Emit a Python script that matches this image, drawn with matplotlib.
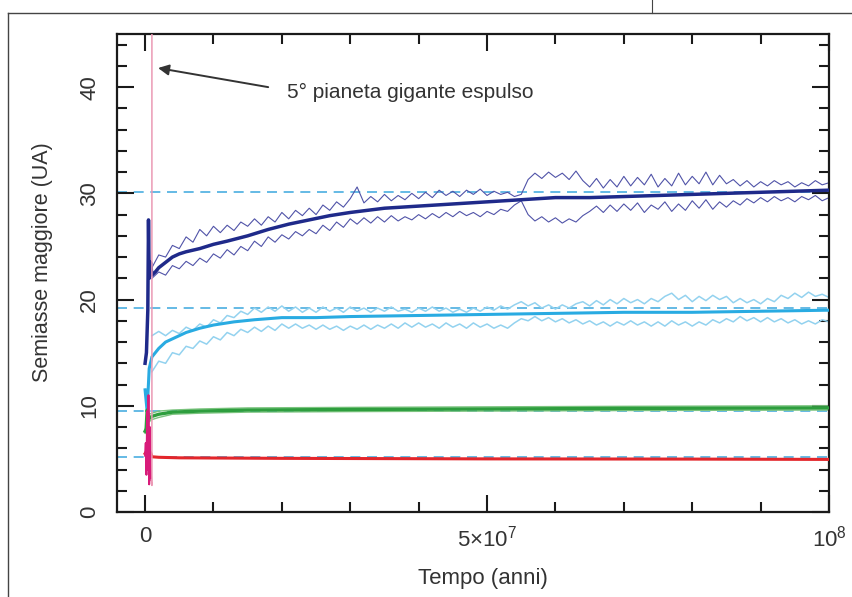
import numpy as np
import matplotlib.pyplot as plt
from matplotlib.lines import Line2D
from matplotlib.ticker import MultipleLocator

plt.rcParams['font.family'] = ['Liberation Sans', 'DejaVu Sans']
plt.rcParams['mathtext.fontset'] = 'custom'
plt.rcParams['mathtext.rm'] = 'Liberation Sans'

# --- dati (tempi in milioni di anni, semiassi in UA) ---
t_env = np.arange(1, 101)

nettuno_sup = [23.0, 24.2, 24.0, 25.1, 24.8, 25.9, 25.4, 26.6, 26.0, 26.9,
               26.3, 27.0, 26.5, 27.3, 26.9, 27.6, 27.0, 27.8, 27.3, 28.2,
               27.6, 28.4, 27.9, 28.6, 28.0, 28.9, 28.4, 29.2, 28.7, 29.5,
               30.6, 29.1, 29.7, 29.2, 29.9, 29.3, 29.8, 29.4, 30.0, 29.5,
               30.1, 29.6, 30.3, 29.8, 30.2, 29.7, 30.3, 29.9, 30.4, 29.8,
               30.2, 29.9, 30.1, 29.7, 29.9, 31.3, 31.9, 31.4, 32.0, 31.5,
               31.9, 31.3, 32.1, 31.2, 30.6, 31.4, 30.5, 31.3, 30.6, 31.6,
               30.7, 31.5, 30.8, 31.8, 30.6, 31.4, 30.7, 31.9, 30.8, 31.6,
               30.9, 32.0, 30.8, 31.7, 30.9, 31.3, 30.7, 31.2, 30.6, 31.1,
               30.7, 31.2, 30.8, 31.1, 30.6, 31.0, 30.7, 31.2, 30.8, 31.0]
nettuno_inf = [22.0, 22.6, 22.3, 23.2, 22.9, 23.6, 23.2, 23.9, 23.5, 24.3,
               23.9, 24.7, 24.2, 25.0, 24.6, 25.5, 25.0, 25.9, 25.4, 26.1,
               25.7, 26.4, 26.0, 26.6, 26.2, 27.0, 26.5, 27.3, 26.8, 27.6,
               27.1, 27.7, 27.2, 27.8, 27.3, 27.9, 27.4, 27.8, 27.5, 28.0,
               27.6, 28.1, 27.7, 28.2, 27.8, 28.3, 27.9, 28.2, 27.8, 28.3,
               28.0, 28.5, 28.3, 28.9, 29.3, 28.0, 27.4, 27.8, 27.3, 27.7,
               27.2, 27.6, 27.3, 27.9, 28.3, 28.8, 28.2, 28.9, 28.3, 29.0,
               28.4, 29.1, 28.2, 28.9, 28.5, 29.2, 28.3, 29.0, 28.4, 29.3,
               28.6, 29.4, 28.5, 29.2, 28.7, 29.3, 28.9, 29.5, 29.1, 29.6,
               29.2, 29.7, 29.3, 29.6, 29.2, 29.7, 29.4, 29.8, 29.3, 29.6]
nettuno_t = [0, 0.2, 0.4, 0.5, 0.6, 0.8, 1, 1.5, 2, 3, 4, 5, 6, 8, 10, 12,
             15, 18, 21, 24, 27, 30, 35, 40, 45, 50, 55, 60, 65, 70, 75, 80,
             85, 90, 95, 100]
nettuno_a = [14.0, 15.0, 19.0, 27.5, 22.0, 23.5, 22.3, 22.6, 23.0, 23.5,
             24.0, 24.3, 24.5, 24.8, 25.2, 25.5, 26.0, 26.6, 27.1, 27.5,
             27.9, 28.2, 28.6, 28.8, 29.0, 29.2, 29.4, 29.6, 29.6, 29.7,
             29.8, 29.9, 30.0, 30.1, 30.2, 30.3]

urano_sup = [16.6, 17.0, 16.6, 17.1, 16.8, 17.4, 17.1, 17.7, 17.4, 18.1,
             17.8, 18.5, 18.3, 18.9, 18.6, 19.2, 18.8, 19.3, 18.9, 19.4,
             18.9, 19.3, 18.8, 19.2, 18.8, 19.3, 18.9, 19.2, 18.8, 19.3,
             18.9, 19.2, 18.8, 19.2, 18.9, 19.3, 18.9, 19.1, 18.8, 19.2,
             18.9, 19.3, 18.9, 19.2, 18.8, 19.1, 18.8, 19.2, 18.9, 19.3,
             19.0, 19.4, 19.1, 19.5, 19.8, 19.4, 19.7, 19.2, 19.5, 19.1,
             19.5, 19.2, 19.6, 19.8, 19.4, 19.9, 19.5, 20.0, 19.6, 20.1,
             19.7, 20.0, 19.6, 20.1, 19.8, 20.3, 20.6, 20.0, 20.4, 19.8,
             20.3, 19.9, 20.4, 20.0, 20.3, 19.7, 20.1, 19.7, 20.0, 19.6,
             20.1, 19.8, 20.4, 20.1, 20.6, 20.2, 20.7, 20.3, 20.5, 20.2]
urano_inf = [13.2, 14.2, 14.0, 15.0, 14.8, 15.6, 15.4, 16.1, 15.8, 16.5,
             16.2, 16.9, 16.6, 17.2, 16.9, 17.4, 17.0, 17.5, 17.1, 17.7,
             17.3, 17.7, 17.3, 17.6, 17.2, 17.6, 17.2, 17.5, 17.1, 17.5,
             17.2, 17.6, 17.2, 17.6, 17.3, 17.7, 17.3, 17.8, 17.4, 17.8,
             17.4, 17.7, 17.3, 17.8, 17.4, 17.7, 17.3, 17.8, 17.4, 17.7,
             17.3, 17.6, 17.3, 17.8, 18.2, 18.0, 18.4, 18.0, 18.3, 17.9,
             18.2, 17.8, 18.1, 17.7, 18.0, 17.6, 17.9, 17.5, 17.9, 17.6,
             18.0, 17.6, 17.9, 17.5, 17.9, 17.5, 18.0, 17.6, 17.9, 17.5,
             17.9, 17.6, 18.1, 17.8, 18.2, 17.9, 18.4, 18.0, 18.3, 17.9,
             18.3, 17.9, 18.2, 17.8, 18.1, 17.7, 18.0, 17.7, 18.1, 17.9]
urano_t = [0, 0.3, 0.6, 1, 1.5, 2, 3, 4, 6, 8, 10, 13, 16, 20, 25, 30, 40,
           50, 60, 70, 80, 90, 100]
urano_a = [11.5, 9.5, 13.5, 14.6, 15.0, 15.4, 16.0, 16.3, 16.9, 17.3, 17.6,
           17.9, 18.1, 18.3, 18.3, 18.4, 18.5, 18.6, 18.7, 18.8, 18.8, 18.9,
           19.0]

saturno_t = [0, 0.15, 0.3, 0.6, 1, 2, 4, 8, 15, 30, 50, 70, 100]
saturno_a = [7.6, 7.8, 9.6, 8.8, 9.0, 9.2, 9.4, 9.5, 9.6, 9.65, 9.7, 9.75, 9.8]
saturno_sup = [7.8, 8.0, 9.9, 9.2, 9.3, 9.5, 9.6, 9.7, 9.8, 9.85, 9.9, 9.95, 10.0]
saturno_inf = [7.4, 7.6, 9.3, 8.5, 8.7, 8.9, 9.2, 9.3, 9.4, 9.45, 9.5, 9.55, 9.6]

giove_t = [0, 0.2, 0.5, 0.8, 1.0, 2, 5, 20, 50, 80, 100]
giove_a = [5.5, 5.7, 5.4, 5.6, 5.2, 5.15, 5.1, 5.05, 5.0, 4.98, 4.95]

quinto_t = [0, 0.1, 0.2, 0.3, 0.4, 0.5, 0.6, 0.7, 0.8, 0.9, 1.0, 1.0]
quinto_a = [5.3, 6.5, 3.5, 9.5, 4.0, 11.0, 2.6, 8.0, 4.5, 3.0, 2.5, 60.0]

# semiassi attuali dei pianeti
a_attuali = [30.1, 19.2, 9.55, 5.2]

MYR = 1e6

fig = plt.figure(figsize=(8.53, 5.97), dpi=100)
ax = fig.add_axes([0.1372, 0.1424, 0.8347, 0.8006])

for a in a_attuali:
    ax.axhline(a, color='#4aaee0', lw=1.2, dashes=(6, 4), zorder=1)

te = t_env * MYR
ax.plot(te, urano_sup, color='#93d2ef', lw=1.1, zorder=2)
ax.plot(te, urano_inf, color='#93d2ef', lw=1.1, zorder=2)
ax.plot(np.array(urano_t) * MYR, urano_a, color='#29abe2', lw=2.2, zorder=3)

ax.plot(te, nettuno_sup, color='#5053a8', lw=0.8, zorder=2)
ax.plot(te, nettuno_inf, color='#5053a8', lw=0.8, zorder=2)
ax.plot(np.array(nettuno_t) * MYR, nettuno_a, color='#1f2a8a', lw=2.5, zorder=3)

st = np.array(saturno_t) * MYR
ax.plot(st, saturno_sup, color='#7cc47f', lw=1.0, zorder=2)
ax.plot(st, saturno_inf, color='#7cc47f', lw=1.0, zorder=2)
ax.plot(st, saturno_a, color='#2e9e3e', lw=2.4, zorder=3)

ax.plot(np.array(giove_t) * MYR, giove_a, color='#e3262b', lw=2.2, zorder=3)

qt = np.array(quinto_t) * MYR
ax.plot(qt[:10], quinto_a[:10], color='#d81b7a', lw=1.4, zorder=4)
ax.plot(qt[9:], quinto_a[9:], color='#eb9ab5', lw=1.1, zorder=4)

ax.set_xlim(-4.1e6, 1e8)
ax.set_ylim(0, 45)

ax.set_xticks([0, 5e7, 1e8])
ax.set_xticklabels(['0', r'$5{\times}10^{7}$', r'$10^{8}$'], fontsize=16)
ax.xaxis.set_minor_locator(MultipleLocator(1e7))
ax.set_yticks([0, 10, 20, 30, 40])
ax.set_yticklabels(['0', '10', '20', '30', '40'], fontsize=16,
                   rotation=90, va='center')
ax.yaxis.set_minor_locator(MultipleLocator(2))
ax.tick_params(which='both', direction='in', top=True, right=True,
               width=1.5, color='#1a1a1a', labelcolor='#333333')
ax.tick_params(which='major', length=12.5)
ax.tick_params(which='minor', length=7)
ax.tick_params(axis='x', which='major', pad=10)
ax.tick_params(axis='y', which='major', pad=12)
for s in ax.spines.values():
    s.set_linewidth(1.6)
    s.set_color('#1a1a1a')

ax.set_xlabel('Tempo (anni)', fontsize=16, color='#333333')
ax.set_ylabel('Semiasse maggiore (UA)', fontsize=15.5, color='#333333')
ax.xaxis.set_label_coords(0.514, -0.117)
ax.yaxis.set_label_coords(-0.09, 0.523)

ax.annotate('', xy=(1.9e6, 41.8), xytext=(18e6, 40.0),
            arrowprops=dict(arrowstyle='-|>', color='#333333', lw=1.4,
                            mutation_scale=16, shrinkA=0, shrinkB=0))
ax.text(20.8e6, 39.5, '5° pianeta gigante espulso', fontsize=15,
        color='#333333', ha='left', va='center')

# cornice della pagina
fig.add_artist(Line2D([0.0094, 1.0], [0.978, 0.978], color='#444444', lw=1.0))
fig.add_artist(Line2D([0.0094, 0.0094], [0.0, 0.978], color='#444444', lw=1.0))
fig.add_artist(Line2D([0.764, 0.764], [0.978, 1.0], color='#444444', lw=0.8))

fig.savefig('out.png', dpi=100)
